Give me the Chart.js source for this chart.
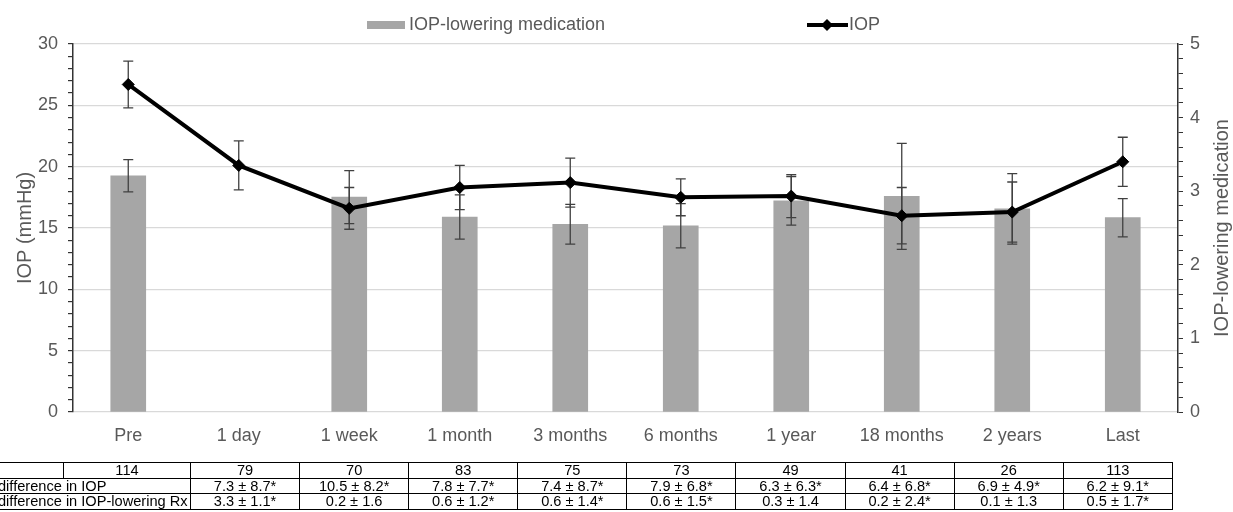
<!DOCTYPE html>
<html>
<head>
<meta charset="utf-8">
<script src="https://cdn.jsdelivr.net/npm/chart.js@4/dist/chart.umd.min.js"></script>
<style>
  body { margin: 0; background: #fff; }
  #wrap { position: relative; width: 1233px; height: 512px; overflow: hidden; }
  #tbl { position: absolute; left: -20px; top: 462px; border-collapse: collapse; table-layout: fixed; width: 1192px;
         font-family: "Liberation Sans", Arial, sans-serif; font-size: 14.6px; color: #000; }
  #tbl td { border: 1px solid #000; padding: 0; height: 14.6px; line-height: 14.6px; text-align: center; white-space: nowrap; overflow: hidden; }
  #tbl td.lab { text-align: left; padding-left: 17px; }
</style>
</head>
<body>
<div id="wrap">
  <canvas id="myChart" width="1233" height="512"></canvas>
  <table id="tbl"></table>
</div>
<script>
let categories = ['Pre', '1 day', '1 week', '1 month', '3 months', '6 months', '1 year', '18 months', '2 years', 'Last'];
let iop = [26.7, 20.1, 16.6, 18.3, 18.7, 17.5, 17.6, 16.0, 16.3, 20.4];
let iopSd = [1.9, 2.0, 1.7, 1.8, 2.0, 1.5, 1.75, 2.3, 2.45, 2.0];
let meds = [3.21, null, 2.92, 2.65, 2.55, 2.53, 2.87, 2.93, 2.76, 2.64];
let medsSd = [0.22, null, 0.36, 0.30, 0.27, 0.30, 0.33, 0.72, 0.48, 0.26];

let nRow = ['114', '79', '70', '83', '75', '73', '49', '41', '26', '113'];
let iopDiffRow = ['7.3 ± 8.7*', '10.5 ± 8.2*', '7.8 ± 7.7*', '7.4 ± 8.7*', '7.9 ± 6.8*', '6.3 ± 6.3*', '6.4 ± 6.8*', '6.9 ± 4.9*', '6.2 ± 9.1*'];
let rxDiffRow = ['3.3 ± 1.1*', '0.2 ± 1.6', '0.6 ± 1.2*', '0.6 ± 1.4*', '0.6 ± 1.5*', '0.3 ± 1.4', '0.2 ± 2.4*', '0.1 ± 1.3', '0.5 ± 1.7*'];

var grey = '#595959';
Chart.defaults.font.family = '"Liberation Sans", Arial, sans-serif';

function buildTable() {
    var t = document.getElementById('tbl');
    var html = '<colgroup><col style="width:83px"><col style="width:127px">';
    for (var i = 0; i < 9; i++) html += '<col style="width:109.1px">';
    html += '</colgroup>';
    html += '<tr><td></td>' + nRow.map(v => '<td>' + v + '</td>').join('') + '</tr>';
    html += '<tr><td class="lab" colspan="2">difference in IOP</td>' + iopDiffRow.map(v => '<td>' + v + '</td>').join('') + '</tr>';
    html += '<tr><td class="lab" colspan="2">difference in IOP-lowering Rx</td>' + rxDiffRow.map(v => '<td>' + v + '</td>').join('') + '</tr>';
    t.innerHTML = html;
}

function drawErr(ctx, px, scale, val, sd) {
    var top = scale.getPixelForValue(val + sd);
    var bot = scale.getPixelForValue(val - sd);
    ctx.beginPath();
    ctx.moveTo(px, top); ctx.lineTo(px, bot);
    ctx.moveTo(px - 5, top); ctx.lineTo(px + 5, top);
    ctx.moveTo(px - 5, bot); ctx.lineTo(px + 5, bot);
    ctx.stroke();
}

// error bars go under the line but over the bars
const errorBars = {
    id: 'errorBars',
    beforeDatasetDraw(chart, args) {
        if (args.meta.type !== 'line') return;
        var ctx = chart.ctx;
        var x = chart.scales.x;
        ctx.save();
        ctx.strokeStyle = '#404040';
        ctx.lineWidth = 1.3;
        categories.forEach(function (c, i) {
            var px = x.getPixelForValue(i);
            if (meds[i] != null) drawErr(ctx, px, chart.scales.y1, meds[i], medsSd[i]);
            drawErr(ctx, px, chart.scales.y, iop[i], iopSd[i]);
        });
        ctx.restore();
    }
};

const topLegend = {
    id: 'topLegend',
    afterDraw(chart) {
        var ctx = chart.ctx;
        var y = 25;
        ctx.save();
        ctx.font = '18px "Liberation Sans", Arial, sans-serif';
        ctx.textBaseline = 'middle';
        ctx.fillStyle = '#a6a6a6';
        ctx.fillRect(367, y - 4, 38, 8);
        ctx.fillStyle = grey;
        ctx.fillText('IOP-lowering medication', 409, y);

        ctx.strokeStyle = '#000';
        ctx.lineWidth = 4;
        ctx.beginPath(); ctx.moveTo(807, y); ctx.lineTo(848, y); ctx.stroke();
        ctx.fillStyle = '#000';
        ctx.beginPath();
        ctx.moveTo(827, y - 6); ctx.lineTo(833, y); ctx.lineTo(827, y + 6); ctx.lineTo(821, y);
        ctx.closePath(); ctx.fill();
        ctx.fillStyle = grey;
        ctx.fillText('IOP', 849, y);

        // right axis title reads bottom-to-top like the left one
        var area = chart.chartArea;
        ctx.translate(1222, (area.top + area.bottom) / 2);
        ctx.rotate(-Math.PI / 2);
        ctx.font = '20px "Liberation Sans", Arial, sans-serif';
        ctx.textAlign = 'center';
        ctx.fillText('IOP-lowering medication', 0, 0);
        ctx.restore();
    }
};

function isMultiple(v, step) {
    var r = v / step;
    return Math.abs(r - Math.round(r)) < 1e-6;
}

function createChart(ctx) {
    return new Chart(ctx, {
        type: 'bar',
        data: {
            labels: categories,
            datasets: [{
                type: 'line',
                label: 'IOP',
                data: iop,
                yAxisID: 'y',
                order: 0,
                borderColor: '#000',
                backgroundColor: '#000',
                borderWidth: 4,
                pointStyle: 'rectRot',
                pointRadius: 6,
                pointBorderWidth: 1,
                tension: 0
            }, {
                type: 'bar',
                label: 'IOP-lowering medication',
                data: meds,
                yAxisID: 'y1',
                order: 1,
                backgroundColor: '#a6a6a6',
                barThickness: 35
            }]
        },
        options: {
            responsive: false,
            animation: false,
            layout: { padding: { top: 44, left: 0, right: 0, bottom: 0 } },
            plugins: {
                legend: { display: false },
                tooltip: { enabled: false }
            },
            scales: {
                x: {
                    grid: { display: false, drawTicks: false },
                    border: { display: false },
                    ticks: { color: grey, font: { size: 18 }, padding: 13, maxRotation: 0 },
                    afterFit: function (s) { s.height = 100; }
                },
                y: {
                    position: 'left',
                    min: 0, max: 30,
                    ticks: {
                        stepSize: 1, autoSkip: false, color: grey, font: { size: 18 }, padding: 10,
                        callback: function (v) { return isMultiple(v, 5) ? v : ''; }
                    },
                    grid: {
                        color: function (c) { return c.tick && isMultiple(c.tick.value, 5) ? '#d9d9d9' : 'rgba(0,0,0,0)'; },
                        tickColor: '#333', tickLength: 5, lineWidth: 1.2
                    },
                    border: { color: '#333', width: 1.5 },
                    title: { display: true, text: 'IOP (mmHg)', color: grey, font: { size: 20 }, padding: { top: 13 } },
                    afterFit: function (s) { s.width = 73; }
                },
                y1: {
                    position: 'right',
                    min: 0, max: 5,
                    ticks: {
                        stepSize: 0.2, autoSkip: false, color: grey, font: { size: 18 }, padding: 7,
                        callback: function (v) { return isMultiple(v, 1) ? Math.round(v) : ''; }
                    },
                    grid: { drawOnChartArea: false, tickColor: '#333', tickLength: 5 },
                    border: { color: '#333', width: 1.5 },
                    afterFit: function (s) { s.width = 55; }
                }
            }
        },
        plugins: [errorBars, topLegend]
    });
}

window.addEventListener('load', function () {
    buildTable();
    var ctx = document.getElementById('myChart').getContext('2d');
    createChart(ctx);
});
</script>
</body>
</html>
